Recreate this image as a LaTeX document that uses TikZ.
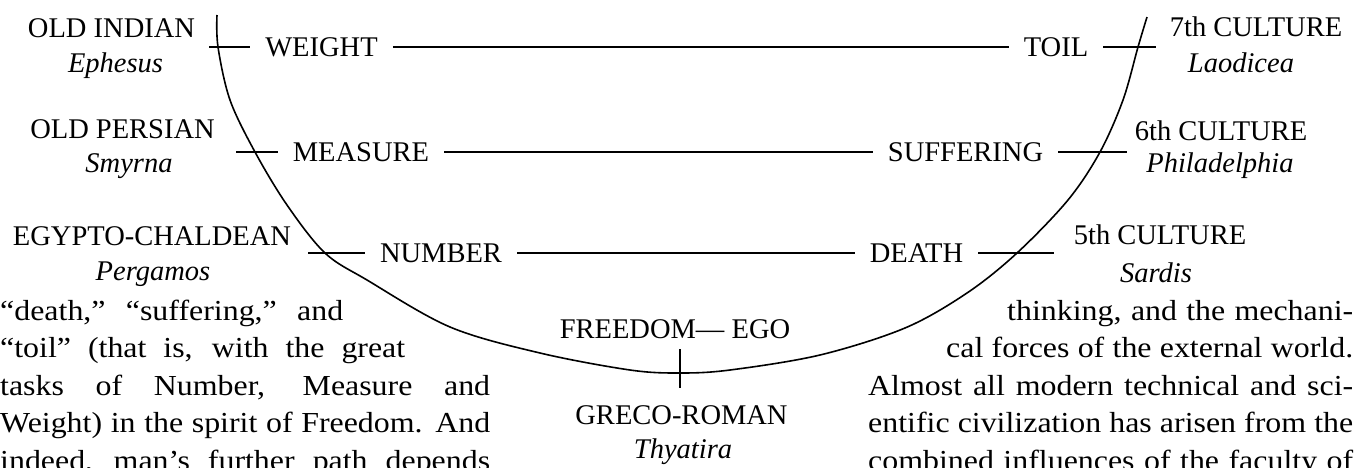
\documentclass[tikz,border=0pt]{standalone}
\usepackage{fontspec}
\setmainfont{Liberation Serif}
\newfontfamily\bodyfont[FakeStretch=1.1]{Liberation Serif}

\tikzset{
  every node/.style={font=\fontsize{28.5}{35}\selectfont},
  rowlabel/.style={inner xsep=15pt, inner ysep=0pt, text height=19pt, text depth=0pt},
  culture/.style={anchor=base, inner sep=0pt},
  church/.style={anchor=base, inner sep=0pt, font=\fontsize{28.5}{35}\selectfont\itshape},
  bodyline/.style={anchor=base west, inner sep=0pt, font=\bodyfont\fontsize{29}{37}\selectfont},
  rule/.style={line width=1.6pt},
}

\begin{document}
\begin{tikzpicture}[x=1pt, y=-1pt]
        \useasboundingbox (0, 0) rectangle (1355, 467);

        % the bowl of the seven cultures
        \draw[rule] plot[smooth, tension=0.55] coordinates {
                (217, 15) (218, 47) (230, 100) (255, 152) (287, 205)
                (325, 253) (367, 280) (450, 327) (540, 353) (630, 370)
                (680, 373) (730, 370) (820, 355) (905, 328) (967, 293)
                (1017, 253) (1068, 200) (1100, 152) (1123, 100) (1138, 47)
                (1147, 17)
            };

        % cultures and churches
        \node[culture] (indian) at (111.5, 37) {OLD INDIAN};
        \node[church] (ephesus) at (115.5, 72) {Ephesus};
        \node[culture] (persian) at (122.5, 138) {OLD PERSIAN};
        \node[church] (smyrna) at (129, 172) {Smyrna};
        \node[culture] (egypt) at (152, 245) {EGYPTO-CHALDEAN};
        \node[church] (pergamos) at (153, 280) {Pergamos};

        \node[culture] (seventh) at (1256, 36) {7th CULTURE};
        \node[church] (laodicea) at (1241, 72) {Laodicea};
        \node[culture] (sixth) at (1221, 140) {6th CULTURE};
        \node[church] (philadelphia) at (1220, 172) {Philadelphia};
        \node[culture] (fifth) at (1160, 244) {5th CULTURE};
        \node[church] (sardis) at (1156, 282) {Sardis};

        \node[culture] (freedom) at (675, 338) {FREEDOM— EGO};
        \node[culture] (greco) at (681.5, 424) {GRECO-ROMAN};
        \node[church] (thyatira) at (683, 458) {Thyatira};
        \coordinate (tickA) at (680, 349);
        \coordinate (tickB) at (680, 388);
        \draw[rule] (tickA) -- (tickB);

        % the three rows
        \node[rowlabel] (weight) at (321.5, 47) {WEIGHT};
        \node[rowlabel] (toil) at (1056, 47) {TOIL};
        \node[rowlabel] (measure) at (361, 152) {MEASURE};
        \node[rowlabel] (suffering) at (965.5, 152) {SUFFERING};
        \node[rowlabel] (number) at (441, 253) {NUMBER};
        \node[rowlabel] (death) at (916.5, 253) {DEATH};

        \coordinate (weightL) at (209, 47);
        \coordinate (toilR) at (1156, 47);
        \coordinate (measureL) at (236, 152);
        \coordinate (sufferingR) at (1127, 152);
        \coordinate (numberL) at (308, 253);
        \coordinate (deathR) at (1054, 253);

        \draw[rule] (weightL) -- (weight) -- (toil) -- (toilR);
        \draw[rule] (measureL) -- (measure) -- (suffering) -- (sufferingR);
        \draw[rule] (numberL) -- (number) -- (death) -- (deathR);

        % running text round the figure
        \node[bodyline] (left1) at (0, 320) {\makebox[343pt][s]{“death,” “suffering,” and}};
        \node[bodyline] (left2) at (0, 357) {\makebox[405pt][s]{“toil” (that is, with the great}};
        \node[bodyline] (left3) at (0, 395) {\makebox[490pt][s]{tasks of Number, Measure and}};
        \node[bodyline] (left4) at (0, 432) {\makebox[490pt][s]{Weight) in the spirit of Freedom. And}};
        \node[bodyline] (left5) at (0, 470) {\makebox[490pt][s]{indeed, man’s further path depends}};

        \node[bodyline] (right1) at (1007, 320) {\makebox[346pt][s]{thinking, and the mechani-}};
        \node[bodyline] (right2) at (946, 357) {\makebox[407pt][s]{cal forces of the external world.}};
        \node[bodyline] (right3) at (868, 395) {\makebox[485pt][s]{Almost all modern technical and sci-}};
        \node[bodyline] (right4) at (868, 432) {\makebox[485pt][s]{entific civilization has arisen from the}};
        \node[bodyline] (right5) at (868, 470) {\makebox[485pt][s]{combined influences of the faculty of}};
    \end{tikzpicture}
\end{document}
